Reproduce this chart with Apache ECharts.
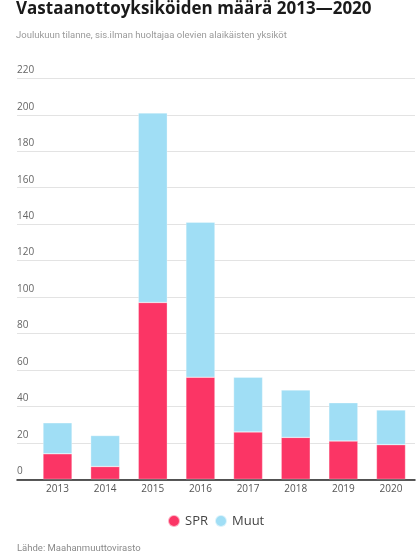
<!DOCTYPE html>
<html>
<head>
<meta charset="utf-8">
<script src="https://cdn.jsdelivr.net/npm/echarts@6/dist/echarts.min.js"></script>
<style>
html,body{margin:0;padding:0;background:#fff;}
#c{width:420px;height:558px;}
</style>
</head>
<body>
<div id="c"></div>
<script>
var categories = ['2013','2014','2015','2016','2017','2018','2019','2020'];
var spr = [14, 7, 97, 56, 26, 23, 21, 19];
var muut = [17, 17, 104, 85, 30, 26, 21, 19];
var yTicks = [0, 20, 40, 60, 80, 100, 120, 140, 160, 180, 200, 220];

var chart = echarts.init(document.getElementById('c'), null, {renderer: 'canvas'});
var font = 'Open Sans';
chart.setOption({
  animation: false,
  backgroundColor: '#fff',
  title: [{
    text: 'Vastaanottoyksiköiden määrä 2013—2020',
    left: 16, top: 1, padding: 0,
    textStyle: {fontFamily: font, fontSize: 17, fontWeight: 'bold', color: '#1a1a1a'}
  }, {
    text: 'Joulukuun tilanne, sis.ilman huoltajaa olevien alaikäisten yksiköt',
    left: 16, top: 31, padding: 0,
    textStyle: {fontFamily: 'Roboto', fontSize: 9.5, fontWeight: 'normal', color: '#9a9a9a'}
  }, {
    text: 'Lähde: Maahanmuuttovirasto',
    left: 17, top: 544, padding: 0,
    textStyle: {fontFamily: 'Roboto', fontSize: 9.5, fontWeight: 'normal', color: '#8a8a8a'}
  }],
  legend: {
    data: ['SPR', 'Muut'],
    left: 167, top: 514, padding: 0,
    icon: 'circle', itemWidth: 12, itemHeight: 12, itemGap: 6,
    textStyle: {fontFamily: font, fontSize: 13, color: '#444'}
  },
  grid: [
    {left: 17, right: 5, top: 78.3, bottom: 78.7, containLabel: false},
    {left: 33.7, right: 5.2, top: 78.3, bottom: 78.7, containLabel: false}
  ],
  xAxis: [{
    gridIndex: 0, type: 'value', min: 0, max: 1,
    axisLine: {show: true, lineStyle: {color: '#222', width: 1.5}},
    axisTick: {show: false}, axisLabel: {show: false}, splitLine: {show: false}
  }, {
    gridIndex: 1, type: 'category', data: categories,
    axisLine: {show: false}, axisTick: {show: false},
    axisLabel: {fontFamily: font, fontSize: 10, color: '#555', margin: 5}
  }],
  yAxis: [{
    gridIndex: 0, type: 'value', min: yTicks[0], max: yTicks[yTicks.length - 1], interval: yTicks[1] - yTicks[0],
    axisLine: {show: false}, axisTick: {show: false},
    axisLabel: {inside: true, margin: 0, fontFamily: font, fontSize: 10, color: '#666',
      verticalAlign: 'bottom', padding: [0, 0, 3, 0]},
    splitLine: {lineStyle: {color: '#e3e3e3', width: 1}}
  }, {
    gridIndex: 1, type: 'value', min: yTicks[0], max: yTicks[yTicks.length - 1],
    show: false, splitLine: {show: false}
  }],
  series: [{
    name: 'SPR', type: 'bar', stack: 'a', xAxisIndex: 1, yAxisIndex: 1,
    data: spr, barWidth: 29,
    itemStyle: {color: '#fb3565', borderColor: 'rgba(255,255,255,0.6)', borderWidth: 0.5}
  }, {
    name: 'Muut', type: 'bar', stack: 'a', xAxisIndex: 1, yAxisIndex: 1,
    data: muut, barWidth: 29,
    itemStyle: {color: '#a0def5', borderColor: 'rgba(255,255,255,0.6)', borderWidth: 0.5}
  }]
});
</script>
</body>
</html>
